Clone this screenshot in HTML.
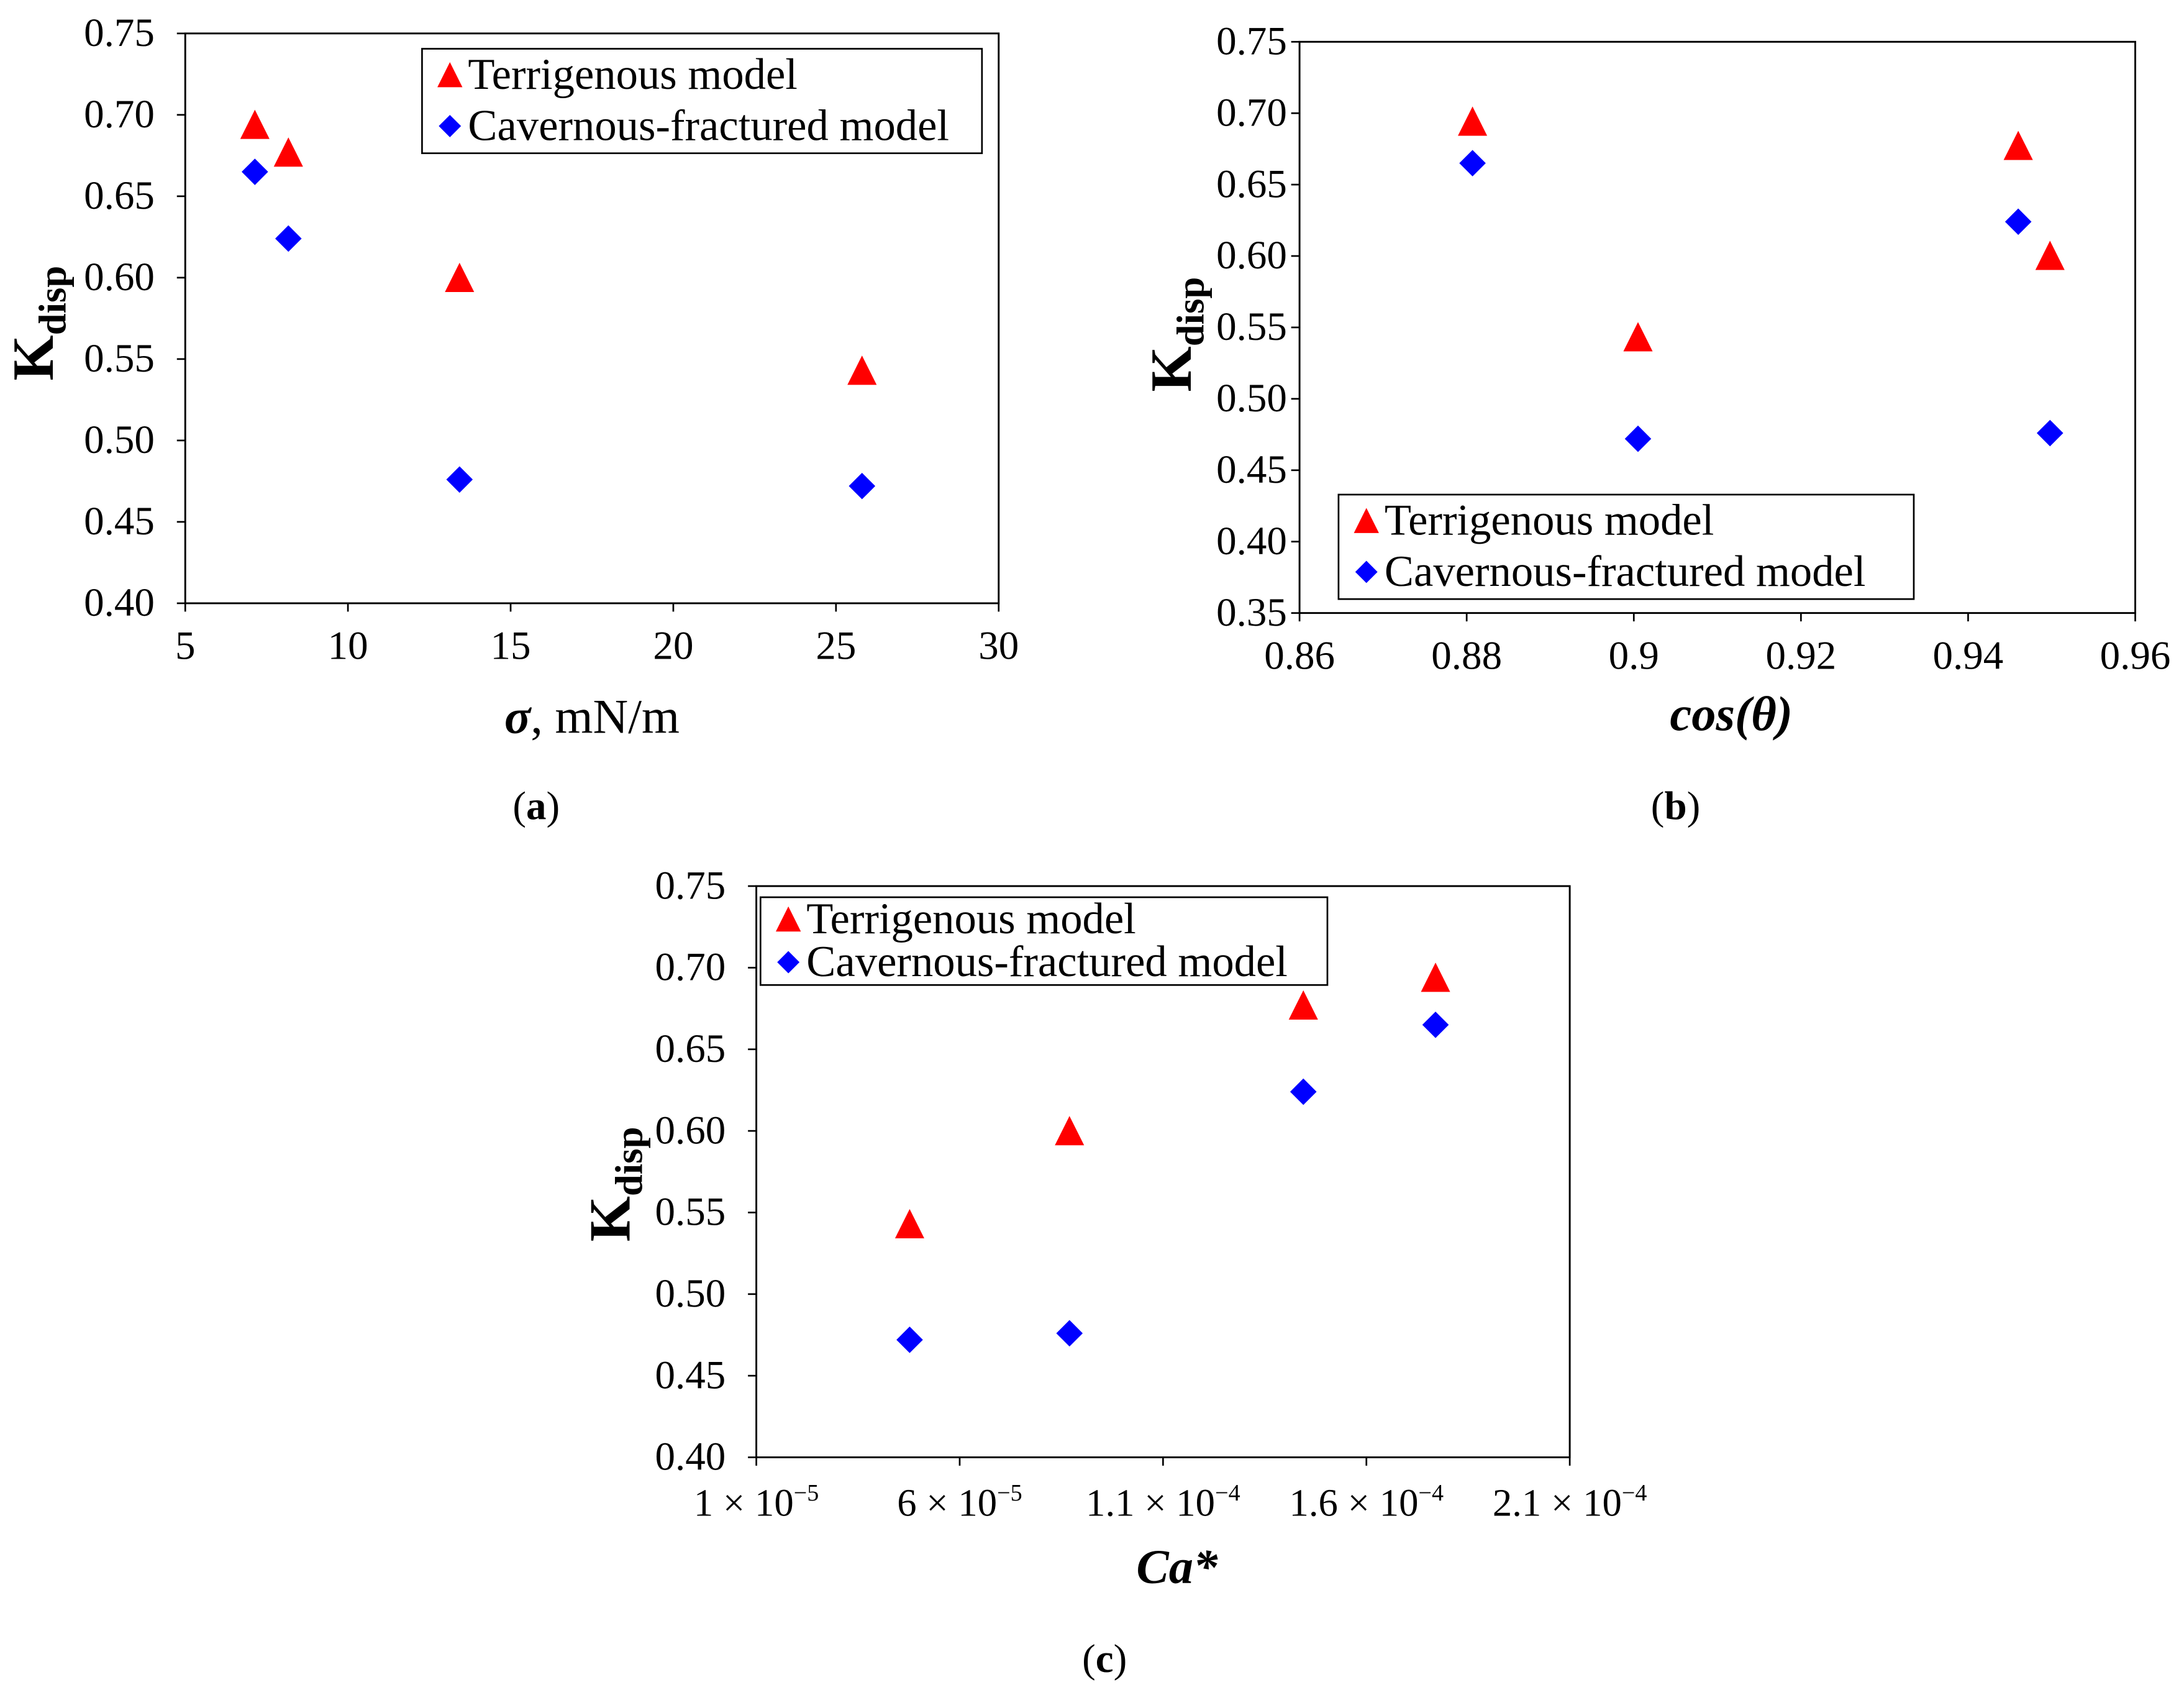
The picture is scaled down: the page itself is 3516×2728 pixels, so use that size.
<!DOCTYPE html>
<html><head><meta charset="utf-8"><style>
html,body{margin:0;padding:0;background:#fff;}
svg{display:block;font-family:"Liberation Serif",serif;}
text{font-family:"Liberation Serif",serif;}
</style></head><body>
<svg id="fig" width="3516" height="2728" viewBox="0 0 1568 1216.6" preserveAspectRatio="none" xmlns="http://www.w3.org/2000/svg"></svg>
<script>
// Panel (a)
const aSigma = [7.14, 8.17, 13.43, 25.8];
const aTerr = [0.692, 0.675, 0.598, 0.541];
const aCav = [0.665, 0.624, 0.476, 0.472];
const aXTicks = [5, 10, 15, 20, 25, 30];
const aXTickLabels = ["5", "10", "15", "20", "25", "30"];
const aYTicks = [0.40, 0.45, 0.50, 0.55, 0.60, 0.65, 0.70, 0.75];
const aYTickLabels = ["0.40", "0.45", "0.50", "0.55", "0.60", "0.65", "0.70", "0.75"];
// Panel (b)
const bCos = [0.8807, 0.9005, 0.946, 0.9498];
const bTerr = [0.692, 0.541, 0.675, 0.598];
const bCav = [0.665, 0.472, 0.624, 0.476];
const bXTicks = [0.86, 0.88, 0.90, 0.92, 0.94, 0.96];
const bXTickLabels = ["0.86", "0.88", "0.9", "0.92", "0.94", "0.96"];
const bYTicks = [0.35, 0.40, 0.45, 0.50, 0.55, 0.60, 0.65, 0.70, 0.75];
const bYTickLabels = ["0.35", "0.40", "0.45", "0.50", "0.55", "0.60", "0.65", "0.70", "0.75"];
// Panel (c)
const cCa = [4.77e-5, 8.7e-5, 1.445e-4, 1.77e-4];
const cTerr = [0.541, 0.598, 0.675, 0.692];
const cCav = [0.472, 0.476, 0.624, 0.665];
const cXTicks = [1e-5, 6e-5, 1.1e-4, 1.6e-4, 2.1e-4];
const cXTickMant = ["1", "6", "1.1", "1.6", "2.1"];
const cXTickExp = ["\u22125", "\u22125", "\u22124", "\u22124", "\u22124"];
const cYTicks = [0.40, 0.45, 0.50, 0.55, 0.60, 0.65, 0.70, 0.75];
const cYTickLabels = ["0.40", "0.45", "0.50", "0.55", "0.60", "0.65", "0.70", "0.75"];

const NS = "http://www.w3.org/2000/svg";
const svg = document.getElementById("fig");
function mk(tag, attrs, parent, text) {
  const e = document.createElementNS(NS, tag);
  for (const k in attrs) e.setAttribute(k, attrs[k]);
  if (text !== undefined) e.textContent = text;
  (parent || svg).appendChild(e);
  return e;
}
function tri(g, x, y, s) {
  return mk("polygon", {points: `${x},${y - s * 0.62} ${x - s / 2},${y + s * 0.38} ${x + s / 2},${y + s * 0.38}`, fill: "#ff0000"}, g);
}
function dia(g, x, y, s) {
  return mk("polygon", {points: `${x},${y - s / 2} ${x + s / 2},${y} ${x},${y + s / 2} ${x - s / 2},${y}`, fill: "#0000ff"}, g);
}

function panel(p) {
  const g = mk("g", {});
  
  
  const sx = v => p.x0 + (v - p.xmin) / (p.xmax - p.xmin) * (p.x1 - p.x0);
  const sy = v => p.y0 - (v - p.ymin) / (p.ymax - p.ymin) * (p.y0 - p.y1);
  const frame = mk("rect", {x: p.x0, y: p.y1, width: p.x1 - p.x0, height: p.y0 - p.y1, fill: "none", stroke: "#000", "stroke-width": 1.3}, g);
  
  
  p.yTicks.forEach((v, i) => {
    mk("line", {x1: p.x0 - 6, x2: p.x0, y1: sy(v), y2: sy(v), stroke: "#000", "stroke-width": 1.2}, g);
    const t = mk("text", {x: p.x0 - p.gap, y: sy(v) + 9, "text-anchor": "end", "font-size": 29}, g, p.yLabels[i]);
    
    
  });
  p.xTicks.forEach((v, i) => {
    mk("line", {x1: sx(v), x2: sx(v), y1: p.y0, y2: p.y0 + 6, stroke: "#000", "stroke-width": 1.2}, g);
    let t;
    if (p.xExp) {
      t = mk("text", {x: sx(v), y: p.y0 + 42, "text-anchor": "middle", "font-size": 28}, g);
      mk("tspan", {}, t, p.xMant[i] + " \u00d7 10");
      mk("tspan", {"font-size": 17, dy: -11}, t, p.xExp[i]);
    } else {
      t = mk("text", {x: sx(v), y: p.y0 + 40, "text-anchor": "middle", "font-size": 29}, g, p.xLabels[i]);
    }
    
    
  });
  p.xs.forEach((xv, i) => {
    const m = tri(g, sx(xv), sy(p.terr[i]), 21);
    
    
  });
  p.xs.forEach((xv, i) => {
    const m = dia(g, sx(xv), sy(p.cav[i]), 19);
    
    
  });
  const lg = mk("g", {}, g);
  
  
  mk("rect", {x: p.lx, y: p.ly, width: p.lw, height: p.lh, fill: "#fff", stroke: "#000", "stroke-width": 1.2}, lg);
  const r1 = p.ly + p.lh * 0.25, r2 = p.ly + p.lh * 0.74;
  tri(lg, p.lx + 20, r1 + 2, 18);
  const t1 = mk("text", {x: p.lx + 33, y: r1 + 10, "font-size": 31.5}, lg, "Terrigenous model");
  
  
  dia(lg, p.lx + 20, r2, 16);
  const t2 = mk("text", {x: p.lx + 33, y: r2 + 10, "font-size": 31.5}, lg, "Cavernous-fractured model");
  
  
  const yt = mk("text", {transform: `translate(${p.ytx},${p.yty}) rotate(-90)`, "text-anchor": "middle", "font-weight": "bold", "font-size": 42}, g);
  mk("tspan", {}, yt, "K");
  mk("tspan", {"font-size": 28, dy: 9}, yt, "disp");
  
  
  const xt = mk("text", {x: p.xtx, y: p.xty, "text-anchor": "middle", "font-size": 35}, g);
  p.xTitle(xt);
  
  
  const cap = mk("text", {x: p.capx, y: p.capy, "text-anchor": "middle", "font-size": 29}, g);
  mk("tspan", {}, cap, "(");
  mk("tspan", {"font-weight": "bold"}, cap, p.cap);
  mk("tspan", {}, cap, ")");
  
  
}

panel({name: "panel-a", x0: 133, x1: 717, y0: 433, y1: 24, xmin: 5, xmax: 30, ymin: 0.40, ymax: 0.75, gap: 22,
  xTicks: aXTicks, xLabels: aXTickLabels, yTicks: aYTicks, yLabels: aYTickLabels,
  xs: aSigma, terr: aTerr, cav: aCav,
  lx: 303, ly: 35, lw: 402, lh: 75, ytx: 38, yty: 232, xtx: 425, xty: 526,
  xTitle: t => { mk("tspan", {"font-weight": "bold", "font-style": "italic"}, t, "\u03c3"); mk("tspan", {}, t, ", mN/m"); },
  capx: 385, capy: 588, cap: "a"});
panel({name: "panel-b", x0: 933, x1: 1533, y0: 440, y1: 30, xmin: 0.86, xmax: 0.96, ymin: 0.35, ymax: 0.75, gap: 9,
  xTicks: bXTicks, xLabels: bXTickLabels, yTicks: bYTicks, yLabels: bYTickLabels,
  xs: bCos, terr: bTerr, cav: bCav,
  lx: 961, ly: 355, lw: 413, lh: 75, ytx: 855, yty: 240, xtx: 1243, xty: 524,
  xTitle: t => { mk("tspan", {"font-weight": "bold", "font-style": "italic"}, t, "cos(\u03b8)"); },
  capx: 1203, capy: 588, cap: "b"});
panel({name: "panel-c", x0: 543, x1: 1127, y0: 1046, y1: 636, xmin: 1e-5, xmax: 2.1e-4, ymin: 0.40, ymax: 0.75, gap: 22,
  xTicks: cXTicks, xExp: cXTickExp, xMant: cXTickMant, yTicks: cYTicks, yLabels: cYTickLabels,
  xs: cCa, terr: cTerr, cav: cCav,
  lx: 546, ly: 644, lw: 407, lh: 63, ytx: 452, yty: 850, xtx: 845, xty: 1136,
  xTitle: t => { mk("tspan", {"font-weight": "bold", "font-style": "italic"}, t, "Ca*"); },
  capx: 793, capy: 1200, cap: "c"});
</script>
</body></html>
